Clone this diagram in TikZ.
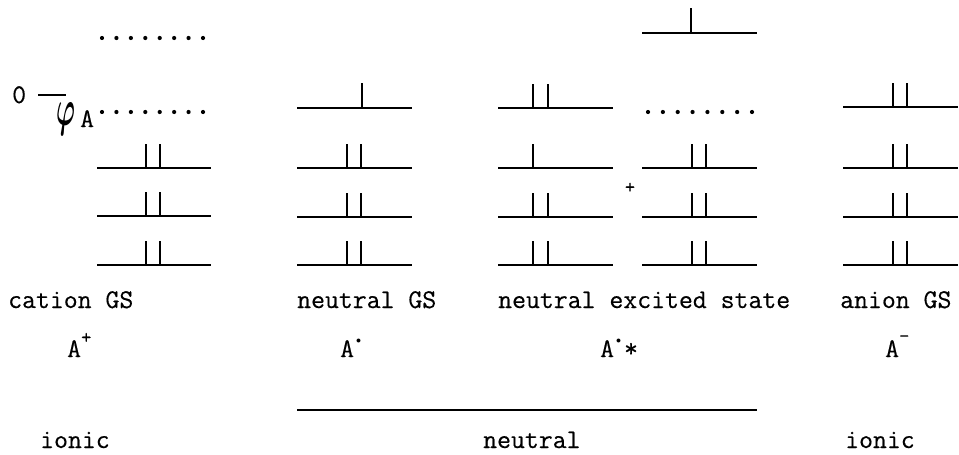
\RequirePackage{fix-cm}
\documentclass[tikz,border=0pt]{standalone}
\usepackage{fontspec}
\usepackage{graphicx}
\newfontfamily\cour{Latin Modern Mono}[FakeBold=0.4]
\begin{document}
\begin{tikzpicture}[x=1pt,y=-1pt,
  lvl/.style={line width=1.7pt},
  spn/.style={line width=1.5pt},
  txt/.style={inner sep=0pt,anchor=base west,font=\fontsize{27}{30}\cour},
  dotc/.style={fill=black}]
\useasboundingbox (0,0) rectangle (959,455);
% ---------- cation column ----------
\foreach \y in {168,216,265}{
  \draw[lvl] (97,\y) -- (211,\y);
  \draw[spn] (146,\y) -- (146,\y-24);
  \draw[spn] (160,\y) -- (160,\y-24);
}
\foreach \i in {0,...,7}{
  \fill[dotc] (102+\i*14.43,38) circle (2.1);
  \fill[dotc] (102+\i*14.43,112) circle (2.1);
}
% zero marker and phi_A
\node[txt] (zero) at (12,103) {0};
\coordinate (zl) at (38,95);
\coordinate (zr) at (66,95);
\draw[line width=1.5pt] (zl) -- (zr);
\node[inner sep=0pt,anchor=base west] (phi) at (56,125)
  {\scalebox{0.5}[1]{\fontsize{51}{51}\selectfont\boldmath$\varphi$}};
\node[txt] (phiA) at (80,127) {A};
% ---------- neutral GS ----------
\foreach \y in {108,168,217,265}{
  \draw[lvl] (297,\y) -- (412,\y);
}
\draw[spn] (362,108) -- (362,83);
\foreach \y in {168,217,265}{
  \draw[spn] (347,\y) -- (347,\y-24);
  \draw[spn] (361,\y) -- (361,\y-24);
}
% ---------- neutral excited, left ----------
\foreach \y in {108,168,217,265}{
  \draw[lvl] (498,\y) -- (613,\y);
}
\foreach \y in {108,217,265}{
  \draw[spn] (533,\y) -- (533,\y-24);
  \draw[spn] (548,\y) -- (548,\y-24);
}
\draw[spn] (533,168) -- (533,144);
% ---------- neutral excited, right ----------
\draw[lvl] (642,33) -- (757,33);
\draw[spn] (691,33) -- (691,8);
\foreach \i in {0,...,7}{
  \fill[dotc] (648+\i*14.86,112) circle (2.1);
}
\foreach \y in {168,217,265}{
  \draw[lvl] (642,\y) -- (757,\y);
  \draw[spn] (692,\y) -- (692,\y-24);
  \draw[spn] (706,\y) -- (706,\y-24);
}
\node[inner sep=0pt,font=\fontsize{20}{20}\cour\bfseries] (plus) at (630,188) {+};
% ---------- anion ----------
\foreach \y in {107,168,217,265}{
  \draw[lvl] (843,\y) -- (958,\y);
  \draw[spn] (893,\y) -- (893,\y-24);
  \draw[spn] (907,\y) -- (907,\y-24);
}
% ---------- labels ----------
\node[txt] (l1) at (8,308) {cation GS};
\node[txt] (l2) at (297,308) {neutral GS};
\node[txt] (l3) at (498,308) {neutral excited state};
\node[txt] (l4) at (840,308) {anion GS};
\node[txt] (s1) at (67,357) {A\raisebox{0.5em}{\fontsize{20}{20}\selectfont\bfseries +}};
\node[txt] (s2) at (340,357) {A\kern2pt\raisebox{0.5em}{\scalebox{0.5}{\fontsize{20}{20}\selectfont$\bullet$}}};
\node[txt] (s3) at (600,357) {A\kern2pt\raisebox{0.5em}{\scalebox{0.5}{\fontsize{20}{20}\selectfont$\bullet$}}\kern3pt*};
\node[txt] (s4) at (885,357) {A\raisebox{0.55em}{\fontsize{20}{20}\selectfont\bfseries -}};
% ---------- bracket line ----------
\coordinate (bl) at (297,410);
\coordinate (br) at (757,410);
\draw[lvl] (bl) -- (br);
\node[txt] (b1) at (40,448) {ionic};
\node[txt] (b2) at (483,448) {neutral};
\node[txt] (b3) at (845,448) {ionic};
\end{tikzpicture}
\end{document}
